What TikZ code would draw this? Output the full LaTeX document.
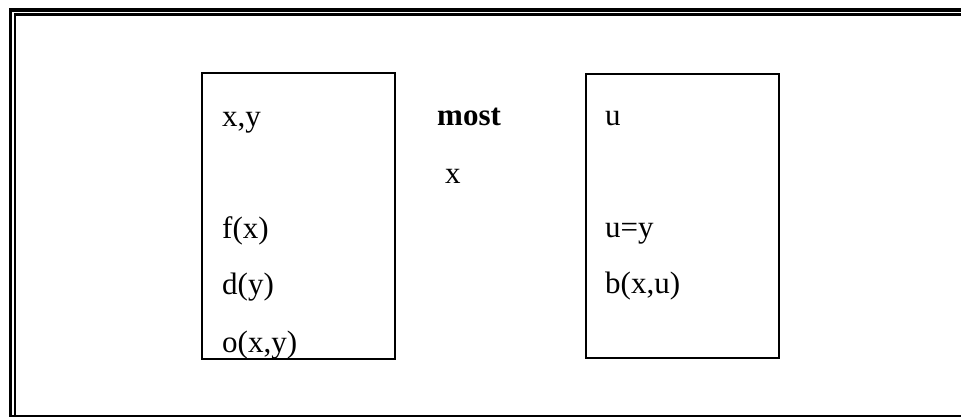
\documentclass[tikz,border=0pt]{standalone}
\usepackage{fontspec}
\setmainfont{Liberation Serif}
\begin{document}
\begin{tikzpicture}[x=1pt,y=-1pt,
  lbl/.style={anchor=base west,inner sep=0pt,font=\fontsize{31}{31}\selectfont},
  panel/.style={draw,line width=2pt,minimum width=0pt,inner sep=0pt}]
\useasboundingbox (0,0) rectangle (961,417);
% outer frame
\draw[line width=3.5pt] (10.5,417) -- (10.5,10) -- (961,10);
\draw[line width=2.2pt] (15,417) -- (15,14.5) -- (961,14.5);
\draw[line width=1.5pt] (10.5,416.2) -- (961,416.2);
% boxes
\draw[line width=2pt] (202,73) rectangle (395,359);
\draw[line width=2pt] (586,74) rectangle (779,358);
\coordinate (L) at (222,0);
\coordinate (R) at (605,0);
\node[lbl] (xy) at (222,127) {x,y};
\node[lbl] (fx) at (222,238) {f(x)};
\node[lbl] (dy) at (222,294) {d(y)};
\node[lbl] (oxy) at (222,352) {o(x,y)};
\node[lbl,font=\fontsize{31}{31}\selectfont\bfseries] (most) at (437,126) {most};
\node[lbl] (x) at (445,183) {x};
\node[lbl] (u) at (605,126) {u};
\node[lbl] (uy) at (605,237) {u=y};
\node[lbl] (bxu) at (605,293) {b(x,u)};
\end{tikzpicture}
\end{document}
